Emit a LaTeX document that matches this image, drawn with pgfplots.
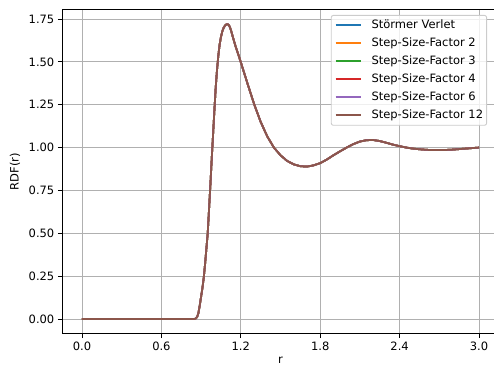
\documentclass[border=0pt]{standalone}
\usepackage{fontspec}
\setmainfont{DejaVu Sans}
\usepackage{pgfplots}
\pgfplotsset{compat=1.18}
\usepackage{pgfplotstable}

% matplotlib tab10 colours
\definecolor{c0}{HTML}{1F77B4}
\definecolor{c1}{HTML}{FF7F0E}
\definecolor{c2}{HTML}{2CA02C}
\definecolor{c3}{HTML}{D62728}
\definecolor{c4}{HTML}{9467BD}
\definecolor{c5}{HTML}{8C564B}

% radial distribution function g(r); the integrator variants coincide
\pgfplotstableread{
r g
0.00 0.000
0.85 0.000
0.86 0.003
0.87 0.012
0.88 0.035
0.89 0.080
0.90 0.130
0.91 0.180
0.92 0.240
0.93 0.320
0.94 0.410
0.95 0.500
0.96 0.640
0.97 0.780
0.98 0.930
0.99 1.070
1.00 1.210
1.01 1.345
1.02 1.450
1.03 1.535
1.04 1.600
1.05 1.645
1.06 1.677
1.07 1.698
1.08 1.711
1.09 1.718
1.10 1.720
1.11 1.714
1.12 1.698
1.13 1.673
1.14 1.645
1.15 1.618
1.16 1.592
1.18 1.545
1.20 1.498
1.25 1.375
1.30 1.255
1.35 1.150
1.40 1.065
1.45 1.000
1.50 0.955
1.55 0.922
1.60 0.902
1.65 0.891
1.70 0.889
1.75 0.896
1.80 0.909
1.85 0.930
1.90 0.955
1.95 0.978
2.00 1.000
2.05 1.020
2.10 1.035
2.15 1.043
2.20 1.044
2.25 1.038
2.30 1.028
2.35 1.017
2.40 1.008
2.45 1.000
2.50 0.994
2.55 0.990
2.60 0.987
2.65 0.985
2.70 0.985
2.75 0.986
2.80 0.988
2.85 0.991
2.90 0.994
2.95 0.997
3.00 1.000
}\rdf

\begin{document}
\begin{tikzpicture}[font=\fontsize{11.5}{13.8}\selectfont]
\begin{axis}[
  scale only axis,
  width=436.7pt, height=324.3pt,
  xmin=-0.15, xmax=3.15,
  ymin=-0.086, ymax=1.806,
  xtick={0,0.6,1.2,1.8,2.4,3.0},
  ytick={0,0.25,0.5,0.75,1.0,1.25,1.5,1.75},
  /pgf/number format/assume math mode=true,
  xticklabel style={/pgf/number format/.cd, fixed, fixed zerofill, precision=1},
  yticklabel style={/pgf/number format/.cd, fixed, fixed zerofill, precision=2},
  xtick pos=left, ytick pos=left,
  tick align=outside,
  major tick length=4.3pt,
  tick style={black, line width=0.9pt},
  axis line style={line width=0.9pt},
  grid=major,
  major grid style={black!31, line width=0.9pt},
  xlabel={r}, ylabel={RDF(r)},
  xlabel style={at={([yshift=-23.5pt]axis description cs:0.5,0)}, anchor=north, inner sep=0pt},
  ylabel style={at={([xshift=-52.5pt]axis description cs:0,0.5)}, rotate=0, anchor=north, inner sep=0pt},
  legend cell align=left,
  legend image code/.code={\draw[#1] (0pt,0pt) -- (25pt,0pt);},
  legend style={
    at={([xshift=-11.8pt,yshift=-5.6pt]rel axis cs:1,1)}, anchor=north east,
    draw=black!20, line width=0.9pt, rounded corners=2pt,
    fill=white, fill opacity=0.8, text opacity=1,
    inner xsep=3.5pt, inner ysep=4.5pt,
    nodes={inner sep=0pt, text height=8.3pt, text depth=2.5pt},
    row sep=7.2pt,
    /tikz/every odd column/.append style={column sep=10pt},
  },
  every axis plot/.append style={line width=1.75pt, line join=round, no markers},
]
\addplot[c0] table[x=r, y=g] {\rdf};
\addlegendentry{Störmer Verlet}
\addplot[c1] table[x=r, y=g] {\rdf};
\addlegendentry{Step-Size-Factor 2}
\addplot[c2] table[x=r, y=g] {\rdf};
\addlegendentry{Step-Size-Factor 3}
\addplot[c3] table[x=r, y=g] {\rdf};
\addlegendentry{Step-Size-Factor 4}
\addplot[c4] table[x=r, y=g] {\rdf};
\addlegendentry{Step-Size-Factor 6}
\addplot[c5] table[x=r, y=g] {\rdf};
\addlegendentry{Step-Size-Factor 12}
\end{axis}
\pgfresetboundingbox
\path[use as bounding box] (current axis.south west) ++(-62.15pt,-33.3pt) rectangle ++(494pt,367pt);
\end{tikzpicture}
\end{document}
